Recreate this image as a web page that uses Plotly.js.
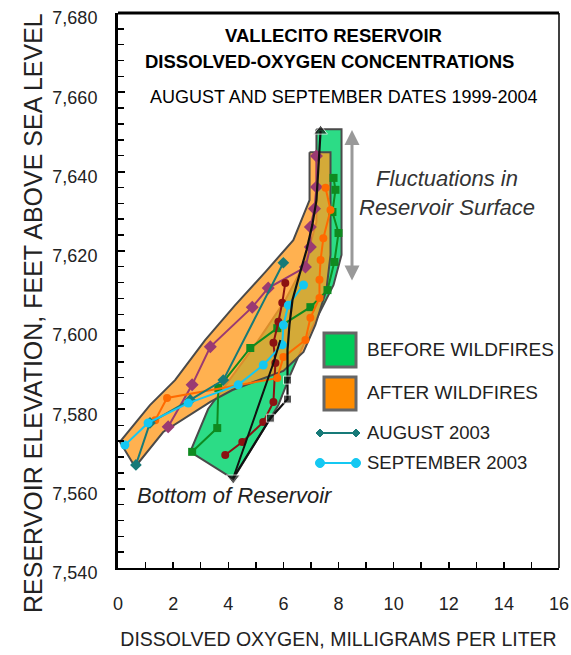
<!DOCTYPE html>
<html>
<head>
<meta charset="utf-8">
<script src="https://cdn.plot.ly/plotly-3.0.1.min.js"></script>
<style>html,body{margin:0;padding:0;background:#fff;}#chart{width:571px;height:655px;}</style>
</head>
<body>
<div id="chart"></div>
<script>
// ---- Data ----
// Envelope of profiles before wildfires
const beforeX = [7.2, 8.11, 8.11, 7.82, 7.27, 6.73, 6.25, 5.82, 4.18, 2.62, 3.27, 3.89, 4.98, 6.07, 6.8, 7.2, 7.2];
const beforeY = [7650.7, 7650.7, 7619.0, 7611.4, 7603.8, 7596.3, 7588.7, 7581.1, 7562.5, 7569.3, 7580.1, 7585.9, 7596.3, 7607.6, 7617.2, 7627.3, 7650.7];
// Envelope of profiles after wildfires
const afterX = [6.95, 7.71, 7.71, 7.56, 7.16, 6.73, 6.0, 4.15, 3.35, 1.64, 0.62, 0.07, 1.16, 2.07, 3.16, 4.25, 5.35, 6.36, 6.95, 6.95];
const afterY = [7644.9, 7644.9, 7619.0, 7610.1, 7601.3, 7594.5, 7589.7, 7584.9, 7581.9, 7574.3, 7565.5, 7571.8, 7581.1, 7587.4, 7597.5, 7606.3, 7614.7, 7622.7, 7632.8, 7644.9];

// Individual profiles
const greenX = [7.82, 7.89, 7.78, 8.0, 7.85, 7.6, 6.98, 5.78, 4.8, 3.64, 3.6, 2.69];
const greenY = [7638.4, 7635.4, 7629.8, 7624.5, 7617.2, 7610.1, 7605.8, 7600.5, 7595.5, 7585.4, 7575.3, 7569.3];

const blackX = [7.35, 7.27, 7.2, 7.05, 6.84, 6.58, 6.33, 6.22, 6.15, 6.15, 6.15, 5.53, 4.18];
const blackY = [7650.2, 7640.4, 7632.8, 7626.5, 7620.2, 7613.9, 7607.6, 7601.3, 7595.0, 7587.4, 7582.6, 7577.8, 7562.7];
const black2X = [4.18, 5.16, 5.64, 5.89];
const black2Y = [7562.7, 7582.4, 7591.7, 7597.5];

const purpleX = [7.2, 7.2, 7.13, 6.98, 6.98, 6.8, 5.45, 4.87, 3.35, 2.69, 1.82];
const purpleY = [7643.9, 7636.1, 7630.6, 7626.0, 7621.0, 7615.9, 7610.6, 7605.8, 7595.8, 7586.2, 7575.6];

const redX = [6.07, 5.96, 5.82, 5.64, 5.71, 5.64, 5.27, 4.51, 3.89];
const redY = [7611.9, 7606.9, 7602.1, 7596.8, 7591.7, 7581.9, 7576.8, 7571.8, 7568.5];

const orangeX = [7.53, 7.71, 7.45, 7.35, 7.31, 7.31, 6.98, 6.8, 6.0, 5.78, 1.78, 1.35];
const orangeY = [7635.9, 7630.3, 7623.2, 7617.7, 7612.7, 7608.1, 7603.1, 7597.5, 7593.2, 7587.9, 7582.9, 7577.3];

const aug2003X = [6.0, 3.82, 2.62, 1.16, 0.65];
const aug2003Y = [7617.0, 7587.4, 7582.4, 7576.6, 7566.0];

const sep2003X = [6.73, 6.18, 6.0, 5.96, 5.27, 4.36, 2.55, 1.09, 0.25];
const sep2003Y = [7611.4, 7606.3, 7601.3, 7596.3, 7591.2, 7586.2, 7581.6, 7576.6, 7571.0];

const xTicks = [0, 2, 4, 6, 8, 10, 12, 14, 16];
const yTicks = [7540, 7560, 7580, 7600, 7620, 7640, 7660, 7680];
const yTickText = ['7,540', '7,560', '7,580', '7,600', '7,620', '7,640', '7,660', '7,680'];

const legendLabels = ['BEFORE WILDFIRES', 'AFTER WILDFIRES', 'AUGUST 2003', 'SEPTEMBER 2003'];

// ---- Layout helpers (pixel -> paper) ----
const L = 118, R = 559, T = 13, B = 568;
const px = p => (p - L) / (R - L);
const py = p => (B - p) / (B - T);

const FONT = 'Liberation Sans, Arial, sans-serif';

function prof(x, y, color, symbol, size, width) {
  return {x: x, y: y, type: 'scatter', mode: 'lines+markers',
    line: {color: color, width: width || 2},
    marker: {color: color, symbol: symbol, size: size},
    showlegend: false, hoverinfo: 'skip'};
}

const blackSizes = blackX.map((v, i) => (i === 0 || i === blackX.length - 1) ? 12 : (i >= 9 ? 8 : 0));
const blackSymbols = blackX.map((v, i) => i === 0 ? 'triangle-up' : (i === blackX.length - 1 ? 'triangle-down' : 'square'));

const traces = [
  {x: beforeX, y: beforeY, type: 'scatter', mode: 'lines', fill: 'toself',
   fillcolor: 'rgb(44,220,134)', line: {color: '#4a4a4a', width: 2}, showlegend: false, hoverinfo: 'skip'},
  {x: afterX, y: afterY, type: 'scatter', mode: 'lines', fill: 'toself',
   fillcolor: 'rgba(255,158,36,0.8)', line: {color: '#4a4a4a', width: 2}, showlegend: false, hoverinfo: 'skip'},
  prof(greenX, greenY, '#0F8A20', 'square', 8),
  prof(purpleX, purpleY, '#9A3A72', 'diamond', 10),
  prof(redX, redY, '#8B1212', 'circle', 8),
  prof(orangeX, orangeY, '#FF6A00', 'circle', 8),
  prof(aug2003X, aug2003Y, '#177A78', 'diamond', 9),
  prof(sep2003X, sep2003Y, '#14C8F2', 'circle', 9),
  {x: black2X, y: black2Y, type: 'scatter', mode: 'lines', line: {color: '#111', width: 2}, showlegend: false, hoverinfo: 'skip'},
  {x: blackX, y: blackY, type: 'scatter', mode: 'lines+markers', line: {color: '#111', width: 2.2},
   marker: {color: '#111', size: blackSizes, symbol: blackSymbols}, showlegend: false, hoverinfo: 'skip'}
];

const shapes = [
  // top and right frame lines
  {type: 'line', xref: 'paper', yref: 'paper', x0: 0, x1: 1, y0: 1, y1: 1, line: {color: '#000', width: 3}},
  {type: 'line', xref: 'paper', yref: 'paper', x0: 1, x1: 1, y0: 0, y1: 1, line: {color: '#000', width: 1.5}},
  // legend swatches
  {type: 'rect', xref: 'paper', yref: 'paper', x0: px(324), x1: px(356), y0: py(367), y1: py(333),
   fillcolor: '#00CC58', line: {color: '#666', width: 3}},
  {type: 'rect', xref: 'paper', yref: 'paper', x0: px(324), x1: px(356), y0: py(410), y1: py(377),
   fillcolor: '#FF8C00', line: {color: '#666', width: 3}},
  {type: 'line', xref: 'paper', yref: 'paper', x0: px(320), x1: px(356), y0: py(433), y1: py(433), line: {color: '#177A78', width: 2}},
  {type: 'line', xref: 'paper', yref: 'paper', x0: px(320), x1: px(356), y0: py(463), y1: py(463), line: {color: '#14C8F2', width: 2}},
];
// legend markers
[320, 356].forEach(c => {
  shapes.push({type: 'path', xref: 'paper', yref: 'paper',
    path: `M ${px(c-4)} ${py(433)} L ${px(c)} ${py(429)} L ${px(c+4)} ${py(433)} L ${px(c)} ${py(437)} Z`,
    fillcolor: '#177A78', line: {color: '#177A78', width: 1}});
  shapes.push({type: 'circle', xref: 'paper', yref: 'paper', x0: px(c-4.5), x1: px(c+4.5), y0: py(467.5), y1: py(458.5),
    fillcolor: '#14C8F2', line: {color: '#14C8F2', width: 1}});
});

const legTextY = [349, 392, 432, 462];
const annotations = [
  {xref: 'paper', yref: 'paper', x: px(333), y: py(35), text: '<b>VALLECITO RESERVOIR</b>', showarrow: false,
   font: {family: FONT, size: 18.5, color: '#000'}, xanchor: 'center', yanchor: 'middle'},
  {xref: 'paper', yref: 'paper', x: px(329), y: py(62), text: '<b>DISSOLVED-OXYGEN CONCENTRATIONS</b>', showarrow: false,
   font: {family: FONT, size: 18.5, color: '#000'}, xanchor: 'center', yanchor: 'middle'},
  {xref: 'paper', yref: 'paper', x: px(343), y: py(97), text: 'AUGUST AND SEPTEMBER DATES 1999-2004', showarrow: false,
   font: {family: FONT, size: 18, color: '#000'}, xanchor: 'center', yanchor: 'middle'},
  {xref: 'paper', yref: 'paper', x: px(447), y: py(193), text: '<i>Fluctuations in</i><br><i>Reservoir Surface</i>', showarrow: false,
   font: {family: FONT, size: 22, color: '#333'}, xanchor: 'center', yanchor: 'middle', align: 'center'},
  {xref: 'paper', yref: 'paper', x: px(235), y: py(495), text: '<i>Bottom of Reservoir</i>', showarrow: false,
   font: {family: FONT, size: 22, color: '#222'}, xanchor: 'center', yanchor: 'middle'},
  // y-axis title (placed to match reference position)
  {xref: 'paper', yref: 'paper', x: px(33), y: py(313), text: 'RESERVOIR ELEVATION, FEET ABOVE SEA LEVEL', showarrow: false,
   textangle: -90, font: {family: FONT, size: 25, color: '#222'}, xanchor: 'center', yanchor: 'middle'},
  // double-headed fluctuation arrow
  {xref: 'paper', yref: 'paper', x: px(352), y: py(130), axref: 'pixel', ayref: 'pixel', ax: 0, ay: 152,
   text: '', showarrow: true, arrowhead: 2, startarrowhead: 2, arrowside: 'end+start', arrowsize: 1, arrowwidth: 3,
   arrowcolor: '#999'}
];
legendLabels.forEach((t, i) => annotations.push({xref: 'paper', yref: 'paper', x: px(365), y: py(legTextY[i]),
  text: t, showarrow: false, xanchor: 'left', yanchor: 'middle', font: {family: FONT, size: i < 2 ? 19 : 18.5, color: '#222'}}));

const layout = {
  width: 571, height: 655,
  margin: {l: L, r: 571 - R, t: T, b: 655 - B, pad: 0},
  paper_bgcolor: '#fff', plot_bgcolor: '#fff',
  font: {family: FONT, color: '#000'},
  showlegend: false,
  xaxis: {range: [0, 16], tickvals: xTicks, ticks: 'inside', ticklen: 6, tickwidth: 1.5, tickcolor: '#000',
    minor: {dtick: 1, ticks: 'inside', ticklen: 6, tickwidth: 1.5, tickcolor: '#000', showgrid: false},
    showline: true, linecolor: '#000', linewidth: 2, showgrid: false, zeroline: false,
    tickfont: {family: FONT, size: 18, color: '#222'}, ticklabelstandoff: 18,
    title: {text: 'DISSOLVED OXYGEN, MILLIGRAMS PER LITER', font: {family: FONT, size: 19.5, color: '#222'}, standoff: 20}},
  yaxis: {range: [7540, 7680], tickvals: yTicks, ticktext: yTickText, ticks: 'inside', ticklen: 7, tickwidth: 2, tickcolor: '#000',
    minor: {dtick: 4, tick0: 7540, ticks: 'inside', ticklen: 6, tickwidth: 1.5, tickcolor: '#000', showgrid: false},
    showline: true, linecolor: '#000', linewidth: 3, showgrid: false, zeroline: false,
    tickfont: {family: FONT, size: 18, color: '#222'}, ticklabelstandoff: 14, ticklabelshift: 5, ticklabeloverflow: 'allow'},
  shapes: shapes,
  annotations: annotations
};

Plotly.newPlot('chart', traces, layout, {staticPlot: true, displayModeBar: false});
</script>
</body>
</html>
